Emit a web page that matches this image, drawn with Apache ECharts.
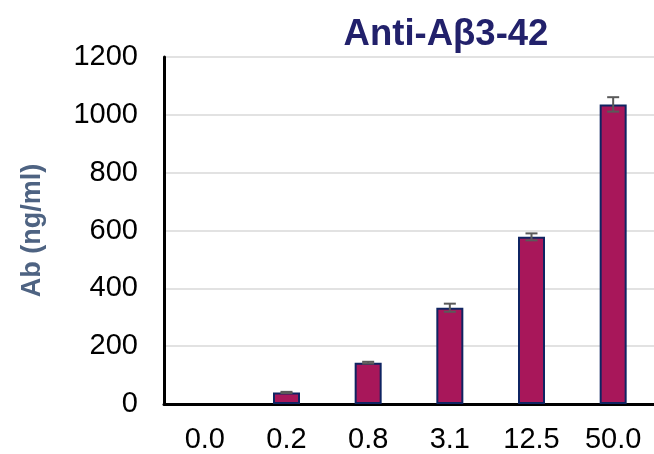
<!DOCTYPE html>
<html><head><meta charset="utf-8">
<script src="https://cdn.jsdelivr.net/npm/echarts@6/dist/echarts.min.js"></script>
<style>html,body{margin:0;padding:0;background:#fff}#c{width:654px;height:454px}</style>
</head><body><div id="c"></div>
<script>
const categories = ['0.0','0.2','0.8','3.1','12.5','50.0'];
const values = [0, 40, 143, 333, 578, 1036];
const errors = [0, 2, 3, 14, 12, 25];
const yTicks = [0, 200, 400, 600, 800, 1000, 1200];

const chart = echarts.init(document.getElementById('c'));
chart.setOption({
  animation: false,
  backgroundColor: '#fff',
  title: {
    text: 'Anti-Aβ3-42', left: 441, top: 11, textAlign: 'center',
    textStyle: {fontFamily: 'Liberation Sans, Arial', fontWeight: 'bold', fontSize: 36.5, color: '#22216b'}
  },
  grid: {left: 164, top: 57, bottom: 50, width: 502},
  xAxis: {
    type: 'category', data: categories,
    axisLine: {lineStyle: {color: '#000', width: 3}},
    axisTick: {show: false},
    axisLabel: {margin: 21, fontFamily: 'Liberation Sans, Arial', fontSize: 29, color: '#000'}
  },
  yAxis: {
    type: 'value', min: yTicks[0], max: yTicks[yTicks.length-1], interval: 200,
    name: 'Ab (ng/ml)', nameLocation: 'middle', nameGap: 118,
    nameTextStyle: {fontFamily: 'Liberation Sans, Arial', fontWeight: 'bold', fontSize: 27, color: '#4e6382'},
    axisLine: {show: true, onZero: false, lineStyle: {color: '#000', width: 3}},
    axisTick: {show: false},
    axisLabel: {margin: 26, fontFamily: 'Liberation Sans, Arial', fontSize: 29, color: '#000',
      formatter: v => String(v)},
    splitLine: {lineStyle: {color: '#d9d9d9', width: 1.5}}
  },
  series: [
    {
      type: 'bar', barWidth: 27, z: 3,
      data: values.map(v => v === 0 ? {value: v, itemStyle: {borderWidth: 0}} : v),
      itemStyle: {color: '#a8175a', borderColor: '#0f2462', borderWidth: 2}
    },
    {
      type: 'custom', z: 5,
      data: values.map((v, i) => [i, v - errors[i], v + errors[i], errors[i]]),
      renderItem: function (params, api) {
        if (!api.value(3)) return null;
        const lo = api.coord([api.value(0), api.value(1)]);
        const hi = api.coord([api.value(0), api.value(2)]);
        const x = lo[0], hw = 6;
        const style = {stroke: '#5a5a5a', lineWidth: 2};
        return {type: 'group', children: [
          {type: 'line', shape: {x1: x, y1: lo[1], x2: x, y2: hi[1]}, style},
          {type: 'line', shape: {x1: x - hw, y1: hi[1], x2: x + hw, y2: hi[1]}, style},
          {type: 'line', shape: {x1: x - hw, y1: lo[1], x2: x + hw, y2: lo[1]}, style}
        ]};
      }
    }
  ]
});
</script></body></html>
